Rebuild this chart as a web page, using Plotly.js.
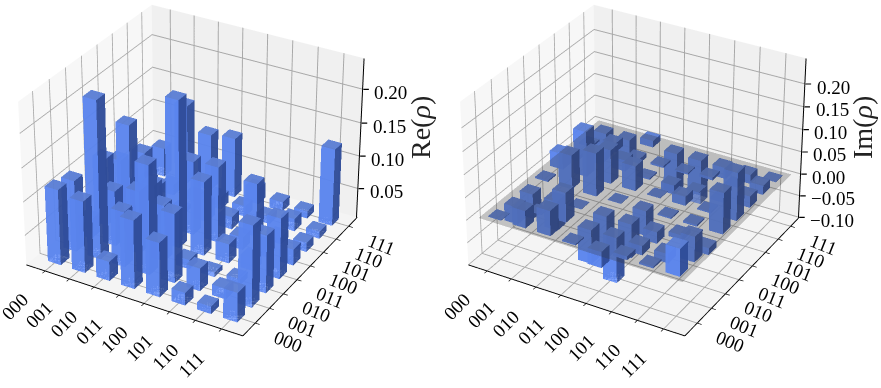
<!DOCTYPE html>
<html>
<head>
<meta charset="utf-8">
<script src="https://cdn.plot.ly/plotly-3.0.1.min.js"></script>
<style>
html, body { margin: 0; padding: 0; background: #fff; overflow: hidden; width: 881px; height: 388px; }
#chart { position: absolute; left: 0; top: -659px; width: 881px; height: 1642px; }
</style>
</head>
<body>
<div id="chart"></div>
<script>
// Estados da base e matrizes
const stateLabels = ['000', '001', '010', '011', '100', '101', '110', '111'];

const rhoRe = [
    [0.118, 0.112, 0.034, 0.107, 0.086, 0.024, 0.016, 0.049],
    [0.112, 0.240, 0.088, 0.168, 0.108, 0.039, 0.021, 0.126],
    [0.034, 0.088, 0.099, 0.089, 0.019, 0.012, 0.014, 0.091],
    [0.107, 0.168, 0.089, 0.225, 0.116, 0.034, 0.024, 0.096],
    [0.086, 0.108, 0.019, 0.116, 0.119, 0.024, 0.021, 0.029],
    [0.024, 0.039, 0.012, 0.034, 0.024, 0.086, 0.016, 0.019],
    [0.016, 0.021, 0.014, 0.024, 0.021, 0.016, 0.024, 0.016],
    [0.049, 0.126, 0.091, 0.096, 0.029, 0.019, 0.016, 0.122]
];

const rhoIm = [
    [0.001, -0.038, -0.055, 0.003, 0.035, -0.008, -0.004, -0.060],
    [0.038, 0.001, -0.065, 0.075, 0.100, 0.020, 0.020, -0.055],
    [0.055, 0.065, 0.001, 0.095, 0.075, 0.025, -0.010, 0.015],
    [-0.003, -0.075, -0.095, 0.001, 0.055, -0.003, -0.004, -0.090],
    [-0.035, -0.100, -0.075, -0.055, 0.001, -0.020, -0.003, -0.105],
    [0.008, -0.020, -0.025, 0.003, 0.020, 0.001, 0.006, -0.025],
    [0.004, -0.020, 0.010, 0.004, 0.003, -0.006, 0.001, -0.020],
    [0.060, 0.055, -0.015, 0.090, 0.105, 0.025, 0.020, 0.001]
];

const zTicksRe = [0.05, 0.10, 0.15, 0.20];
const zTicksIm = [-0.10, -0.05, 0.00, 0.05, 0.10, 0.15, 0.20];
const xRange = [-0.28, 8.3];
const yRange = [-0.35, 8.2];
const zRangeRe = [0.005, 0.245];
const zRangeIm = [-0.10, 0.255];

const barColors = { top: '#6488e0', left: '#6390ff', right: '#2f4c99', back: '#2f4c99', bottom: '#2f4c99' };
const barHalf = 0.27;
const ticks = stateLabels.map((_, i) => i + 0.5);
const serif = 'Liberation Serif, Times New Roman, serif';

// Monta as barras como um único mesh3d; sem escrita de profundidade a ordem dos triângulos define o que fica na frente
function barsMesh(rows, base, scene, keep) {
    const xs = [], ys = [], zs = [], ii = [], jj = [], kk = [], fc = [];
    for (let a = 0; a < rows.length; a++) {
        for (let b = rows[a].length - 1; b >= 0; b--) {
            const val = rows[a][b];
            if (!keep(a, b)) continue;
            const n = xs.length;
            const x0 = a + 0.5 - barHalf, x1 = a + 0.5 + barHalf;
            const y0 = b + 0.5 - barHalf, y1 = b + 0.5 + barHalf;
            const z0 = Math.min(base, val), z1 = Math.max(base, val);
            [[x0, y0, z0], [x1, y0, z0], [x1, y1, z0], [x0, y1, z0],
             [x0, y0, z1], [x1, y0, z1], [x1, y1, z1], [x0, y1, z1]].forEach(p => {
                xs.push(p[0]); ys.push(p[1]); zs.push(p[2]);
            });
            const quads = [
                [0, 1, 2, 3, barColors.bottom], [2, 3, 7, 6, barColors.back], [3, 0, 4, 7, barColors.back],
                [4, 5, 6, 7, barColors.top], [0, 1, 5, 4, barColors.left], [1, 2, 6, 5, barColors.right]
            ];
            quads.forEach(q => {
                ii.push(n + q[0], n + q[0]); jj.push(n + q[1], n + q[2]); kk.push(n + q[2], n + q[3]);
                fc.push(q[4], q[4]);
            });
        }
    }
    return {
        type: 'mesh3d', scene: scene, x: xs, y: ys, z: zs, i: ii, j: jj, k: kk,
        facecolor: fc, flatshading: true, opacity: 0.8, hoverinfo: 'skip',
        lighting: { ambient: 1, diffuse: 0, specular: 0, roughness: 1, fresnel: 0 }
    };
}

// Eixo z na aresta direita: o gl3d o colocaria à esquerda
function zAxisLine(zRange, scene) {
    return {
        type: 'scatter3d', mode: 'lines', scene: scene,
        x: [xRange[1] - 0.02, xRange[1] - 0.02], y: [yRange[1] - 0.02, yRange[1] - 0.02], z: zRange,
        line: { color: '#000', width: 2 }, hoverinfo: 'skip', showlegend: false
    };
}

function sceneLayout(zTicks, zRange, domainX) {
    const grid = { showgrid: true, gridcolor: '#a8a8a8', gridwidth: 2, showline: true, linecolor: '#000', linewidth: 2,
        zeroline: false, showticklabels: false, ticks: 'outside', ticklen: 4, tickwidth: 1.5, tickcolor: '#000',
        showspikes: false, title: { text: '' }, tickmode: 'array', showbackground: true };
    const annotations = [];
    stateLabels.forEach((lab, i) => {
        annotations.push({ x: ticks[i], y: yRange[0], z: zRange[0], text: lab, showarrow: false, textangle: -45,
            xshift: -30, yshift: -36, font: { family: serif, size: 19, color: '#000' } });
        annotations.push({ x: xRange[1], y: ticks[i], z: zRange[0], text: lab, showarrow: false, textangle: 22,
            xshift: 33, yshift: -18, font: { family: serif, size: 19, color: '#000' } });
    });
    zTicks.forEach(t => {
        annotations.push({ x: xRange[1], y: yRange[1], z: t, text: t.toFixed(2).replace('-', '\u2212'), showarrow: false,
            xanchor: 'left', xshift: 9, yshift: -3, font: { family: serif, size: 19, color: '#000' } });
        annotations.push({ x: xRange[1], y: yRange[1], z: t, text: ' ', showarrow: true, arrowhead: 0, arrowwidth: 1.2,
            arrowcolor: '#000', ax: 7, ay: 0, standoff: 0, font: { size: 1 } });
    });
    return {
        domain: { x: domainX, y: [0, 1] },
        aspectmode: 'manual', aspectratio: { x: 1, y: 1, z: 0.75 },
        camera: { eye: { x: 3.46, y: -6, z: 4 }, center: { x: 0, y: 0, z: 0 }, up: { x: 0, y: 0, z: 1 } },
        xaxis: Object.assign({}, grid, { range: xRange, tickvals: ticks, backgroundcolor: '#f7f7f7' }),
        yaxis: Object.assign({}, grid, { range: yRange, tickvals: ticks, backgroundcolor: '#f0f0f0' }),
        zaxis: Object.assign({}, grid, { range: zRange, tickvals: zTicks, backgroundcolor: '#f4f4f4', showline: false, ticks: '' }),
        annotations: annotations
    };
}

const planeIm = {
    type: 'mesh3d', scene: 'scene2', x: [0, 8, 8, 0], y: [0, 0, 8, 8], z: [0, 0, 0, 0],
    i: [0, 0], j: [1, 2], k: [2, 3], color: '#333333', opacity: 0.27, flatshading: true, hoverinfo: 'skip',
    lighting: { ambient: 1, diffuse: 0, specular: 0 }
};

const frontBar = (a, b) => a === 7 && b === 0;

const data = [
    barsMesh(rhoRe, zRangeRe[0], 'scene', () => true),
    zAxisLine(zRangeRe, 'scene'),
    barsMesh(rhoIm, 0, 'scene2', (a, b) => !frontBar(a, b)),
    planeIm,
    barsMesh(rhoIm, 0, 'scene2', frontBar),
    zAxisLine(zRangeIm, 'scene2')
];

const H = 1642, T = 659;
const layout = {
    width: 881, height: H,
    margin: { l: 0, r: 0, t: 0, b: 0 },
    paper_bgcolor: '#fff',
    showlegend: false,
    scene: sceneLayout(zTicksRe, zRangeRe, [4 / 881, 386 / 881]),
    scene2: sceneLayout(zTicksIm, zRangeIm, [447 / 881, 827 / 881]),
    annotations: [
        { xref: 'paper', yref: 'paper', x: 421 / 881, y: 1 - (128 + T) / H, text: 'Re(<i>\u03c1</i>)', showarrow: false,
          xanchor: 'center', yanchor: 'middle', textangle: -90, font: { family: serif, size: 28, color: '#222' } },
        { xref: 'paper', yref: 'paper', x: 863 / 881, y: 1 - (128 + T) / H, text: 'Im(<i>\u03c1</i>)', showarrow: false,
          xanchor: 'center', yanchor: 'middle', textangle: -90, font: { family: serif, size: 28, color: '#222' } }
    ]
};

Plotly.newPlot('chart', data, layout, { displayModeBar: false });
</script>
</body>
</html>
